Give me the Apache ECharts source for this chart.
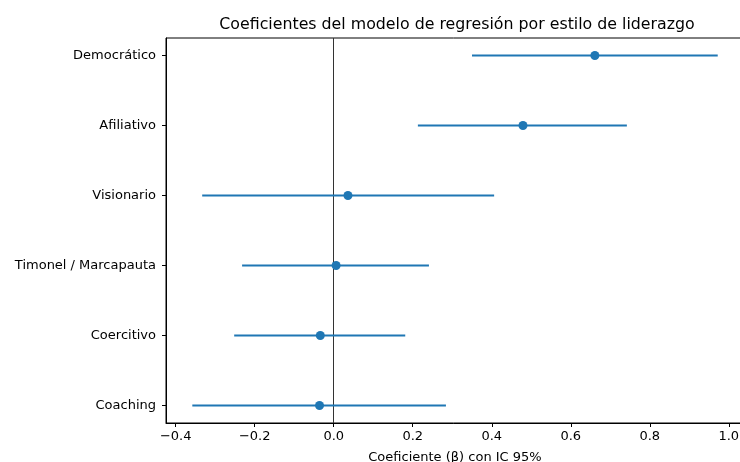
<!DOCTYPE html>
<html>
<head>
<meta charset="utf-8">
<script src="https://cdn.jsdelivr.net/npm/echarts@6/dist/echarts.min.js"></script>
<style>
html,body{margin:0;padding:0;background:#fff;}
#chart{width:740px;height:462px;}
</style>
</head>
<body>
<div id="chart"></div>
<script>
const categories = ['Democrático', 'Afiliativo', 'Visionario', 'Timonel / Marcapauta', 'Coercitivo', 'Coaching'];
const estimates = [0.661, 0.479, 0.036, 0.006, -0.034, -0.036];
const lowerCI = [0.350, 0.213, -0.333, -0.232, -0.252, -0.358];
const upperCI = [0.972, 0.742, 0.406, 0.241, 0.181, 0.284];
const xTicks = [-0.4, -0.2, 0.0, 0.2, 0.4, 0.6, 0.8, 1.0];
const titleText = 'Coeficientes del modelo de regresión por estilo de liderazgo';
const xAxisTitle = 'Coeficiente (β) con IC 95%';

const n = categories.length;
const yPos = categories.map((c, i) => n - 1 - i);
const yTicks = yPos.slice();
const ciData = categories.map((c, i) => [lowerCI[i], upperCI[i], yPos[i]]);
const pointData = categories.map((c, i) => [estimates[i], yPos[i]]);

const font = 'DejaVu Sans';
const blue = '#1f77b4';

const chart = echarts.init(document.getElementById('chart'), null, {renderer: 'canvas'});
chart.setOption({
  animation: false,
  backgroundColor: '#fff',
  title: {
    text: titleText,
    left: 452,
    top: 12,
    textAlign: 'center',
    textStyle: {fontFamily: font, fontSize: 15.8, fontWeight: 'normal', color: '#000'}
  },
  grid: {
    left: 166, top: 38, width: 578, height: 385,
    outerBoundsMode: 'none',
    containLabel: false,
    show: true, borderColor: '#000', borderWidth: 1, backgroundColor: 'transparent'
  },
  xAxis: {
    type: 'value',
    min: -0.4246,
    max: 1.0385,
    splitLine: {show: false},
    axisLine: {show: true, onZero: false, lineStyle: {color: '#000', width: 1}},
    axisTick: {show: true, length: 4, lineStyle: {color: '#000'}, customValues: xTicks},
    axisLabel: {
      customValues: xTicks,
      margin: 7,
      fontFamily: font, fontSize: 13, color: '#000',
      formatter: v => (v < 0 ? '\u2212' : '') + Math.abs(v).toFixed(1)
    },
    name: xAxisTitle,
    nameLocation: 'middle',
    nameGap: 28,
    nameMoveOverlap: false,
    nameTextStyle: {fontFamily: font, fontSize: 13, color: '#000'}
  },
  yAxis: {
    type: 'value',
    min: -0.25,
    max: n - 1 + 0.25,
    splitLine: {show: false},
    axisLine: {show: true, onZero: false, lineStyle: {color: '#000', width: 1}},
    axisTick: {show: true, length: 4, lineStyle: {color: '#000'}, customValues: yTicks},
    axisLabel: {
      customValues: yTicks,
      margin: 10,
      fontFamily: font, fontSize: 13, color: '#000',
      formatter: v => categories[n - 1 - Math.round(v)]
    }
  },
  series: [
    {
      type: 'custom',
      data: ciData,
      encode: {x: [0, 1], y: 2},
      z: 2,
      renderItem: function (params, api) {
        const p1 = api.coord([api.value(0), api.value(2)]);
        const p2 = api.coord([api.value(1), api.value(2)]);
        return {
          type: 'line',
          shape: {x1: p1[0], y1: p1[1], x2: p2[0], y2: p2[1]},
          style: {stroke: blue, lineWidth: 1.8}
        };
      },
      markLine: {
        silent: true,
        symbol: 'none',
        z: 1,
        label: {show: false},
        lineStyle: {color: '#333', width: 1, type: 'solid'},
        data: [{xAxis: 0}]
      }
    },
    {
      type: 'scatter',
      data: pointData,
      symbol: 'circle',
      symbolSize: 9,
      z: 3,
      itemStyle: {color: blue, opacity: 1}
    }
  ]
});
</script>
</body>
</html>
